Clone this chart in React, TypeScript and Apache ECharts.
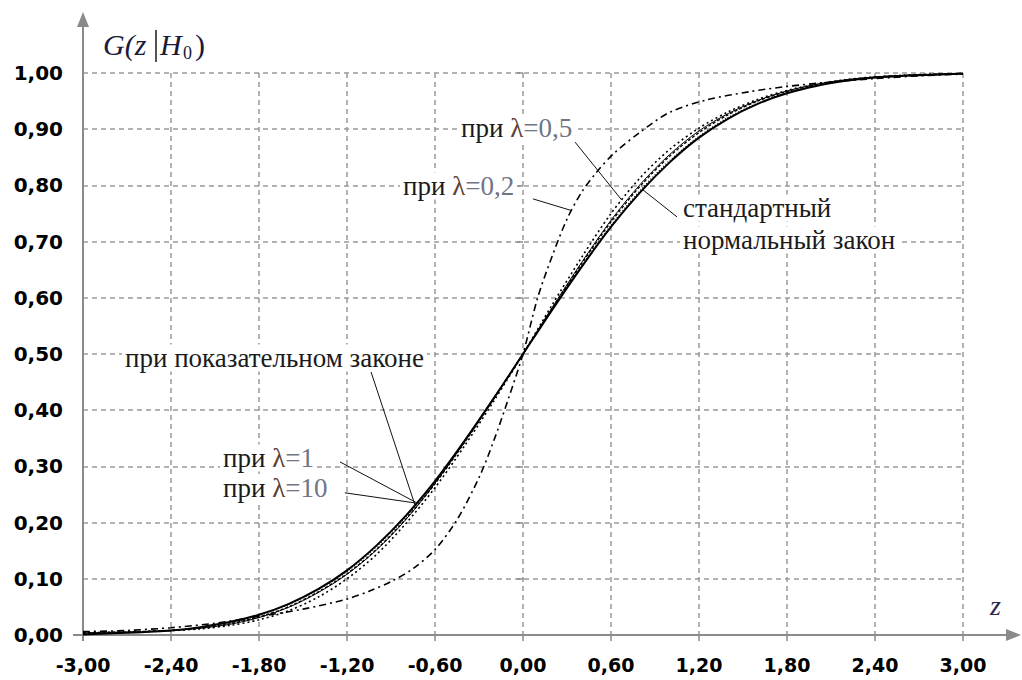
import React, { useEffect, useRef } from "react";
import * as echarts from "echarts";

// ---- data ----
const zGrid = [-3.0, -2.8, -2.6, -2.4, -2.2, -2.0, -1.8, -1.6, -1.4, -1.2, -1.0, -0.8, -0.6, -0.4, -0.2, 0.0, 0.2, 0.4, 0.6, 0.8, 1.0, 1.2, 1.4, 1.6, 1.8, 2.0, 2.2, 2.4, 2.6, 2.8, 3.0];
const gNormal = [0.001, 0.003, 0.005, 0.008, 0.014, 0.023, 0.036, 0.055, 0.081, 0.115, 0.159, 0.212, 0.274, 0.345, 0.421, 0.5, 0.579, 0.655, 0.726, 0.788, 0.841, 0.885, 0.919, 0.945, 0.964, 0.977, 0.986, 0.992, 0.995, 0.997, 0.999];
const gLam10 = [0.002, 0.003, 0.005, 0.008, 0.013, 0.022, 0.035, 0.054, 0.08, 0.113, 0.157, 0.21, 0.272, 0.344, 0.421, 0.5, 0.58, 0.657, 0.729, 0.791, 0.844, 0.887, 0.921, 0.946, 0.965, 0.978, 0.987, 0.992, 0.995, 0.997, 0.999];
const gLam1 = [0.003, 0.004, 0.006, 0.008, 0.012, 0.02, 0.032, 0.05, 0.076, 0.109, 0.152, 0.206, 0.269, 0.342, 0.42, 0.5, 0.582, 0.661, 0.735, 0.799, 0.852, 0.894, 0.926, 0.95, 0.967, 0.979, 0.987, 0.992, 0.995, 0.997, 0.999];
const gExpon = [0.004, 0.005, 0.006, 0.008, 0.012, 0.019, 0.031, 0.049, 0.075, 0.108, 0.151, 0.205, 0.27, 0.343, 0.421, 0.5, 0.583, 0.663, 0.738, 0.802, 0.855, 0.897, 0.928, 0.951, 0.968, 0.98, 0.988, 0.993, 0.996, 0.998, 0.999];
const gLam05 = [0.004, 0.005, 0.006, 0.008, 0.011, 0.017, 0.027, 0.043, 0.067, 0.1, 0.143, 0.198, 0.262, 0.336, 0.416, 0.5, 0.588, 0.672, 0.75, 0.814, 0.864, 0.902, 0.931, 0.953, 0.969, 0.98, 0.988, 0.993, 0.996, 0.998, 0.999];

const zLam02 = [-3.0, -2.7, -2.4, -2.1, -1.8, -1.5, -1.2, -1.05, -0.9, -0.75, -0.6, -0.45, -0.3, -0.2, -0.1, 0.0, 0.1, 0.2, 0.3, 0.4, 0.5, 0.62, 0.8, 1.0, 1.25, 1.55, 1.8, 2.1, 2.4, 2.7, 3.0];
const gLam02 = [0.006, 0.008, 0.013, 0.021, 0.033, 0.046, 0.064, 0.078, 0.095, 0.118, 0.152, 0.205, 0.28, 0.345, 0.42, 0.5, 0.6, 0.675, 0.74, 0.788, 0.823, 0.857, 0.895, 0.93, 0.952, 0.967, 0.976, 0.984, 0.99, 0.995, 0.998];

// leader lines: [from (z, G)] -> [to (z, G)]
const leaderLam05 = [[0.355, 0.877], [0.673, 0.774]];
const leaderLam02 = [[0.068, 0.776], [0.334, 0.755]];
const leaderNormal = [[1.05, 0.744], [0.818, 0.792]];
const leaderExpon = [[-1.036, 0.468], [-0.736, 0.231]];
const leaderLam1 = [[-1.248, 0.308], [-0.723, 0.235]];
const leaderLam10 = [[-1.214, 0.253], [-0.736, 0.235]];

const X_MIN = -3, X_MAX = 3, X_STEP = 0.6;
const Y_MIN = 0, Y_MAX = 1, Y_STEP = 0.1;

const fmt = (v: number) => (Math.abs(v) < 1e-9 ? 0 : v).toFixed(2).replace(".", ",");
const pairs = (xs: number[], ys: number[]) => xs.map((x, i) => [x, ys[i]]);

const SERIF = "'Liberation Serif', 'Times New Roman', serif";
const AXIS_GRAY = "#8a8a8a";
const ANN_SIZE = 27;

export default function App() {
  const ref = useRef<HTMLDivElement>(null);
  useEffect(() => {
    if (!ref.current) return;
    const chart = echarts.init(ref.current, undefined, { renderer: "svg" });

    const curve = (name: string, data: number[][], lineStyle: any) => ({
      name,
      type: "line",
      data,
      showSymbol: false,
      symbol: "none",
      smooth: 0.3,
      silent: true,
      lineStyle: { color: "#000", ...lineStyle },
      z: 3,
    });
    const leader = (data: number[][]) => ({
      type: "line",
      data,
      showSymbol: false,
      symbol: "none",
      silent: true,
      lineStyle: { color: "#111", width: 1 },
      z: 6,
    });

    const richBase = { fontFamily: SERIF, fontSize: ANN_SIZE };
    const lamText = (x: number, y: number, lam: string) => ({
      type: "text",
      x,
      y,
      z: 20,
      style: {
        text: `{a|при }{b|λ}{c|=${lam}}`,
        verticalAlign: "middle",
        backgroundColor: "#fff",
        padding: [0, 3],
        rich: {
          a: { ...richBase, fill: "#1b1b1b" },
          b: { ...richBase, fill: "#5c4030" },
          c: { ...richBase, fill: "#6e7686" },
        },
      },
    });
    const plainText = (x: number, y: number, text: string) => ({
      type: "text",
      x,
      y,
      z: 20,
      style: {
        text,
        fontFamily: SERIF,
        fontSize: ANN_SIZE,
        fill: "#1b1b1b",
        verticalAlign: "middle",
        backgroundColor: "#fff",
        padding: [0, 3],
      },
    });

    chart.setOption({
      animation: false,
      backgroundColor: "#fff",
      grid: { left: 83, right: 59, top: 73, bottom: 45, containLabel: false },
      xAxis: {
        type: "value",
        min: X_MIN,
        max: X_MAX,
        interval: X_STEP,
        axisLine: { show: false },
        axisTick: { show: true, length: 6, lineStyle: { color: AXIS_GRAY, width: 1.5 } },
        axisLabel: {
          formatter: fmt,
          fontFamily: "'DejaVu Sans', sans-serif",
          fontWeight: "bold",
          fontSize: 19,
          color: "#000",
          margin: 20,
        },
        splitLine: { show: true, lineStyle: { color: "#9a9a9a", type: [5, 4], width: 1.5 } },
      },
      yAxis: {
        type: "value",
        min: Y_MIN,
        max: Y_MAX,
        interval: Y_STEP,
        axisLine: { show: false },
        axisTick: { show: true, length: 6, lineStyle: { color: AXIS_GRAY, width: 1.5 } },
        axisLabel: {
          formatter: fmt,
          fontFamily: "'DejaVu Sans', sans-serif",
          fontWeight: "bold",
          fontSize: 20,
          color: "#000",
          margin: 20,
        },
        splitLine: { show: true, lineStyle: { color: "#9a9a9a", type: [5, 4], width: 1.5 } },
      },
      series: [
        curve("λ=0,2", pairs(zLam02, gLam02), { width: 1.6, type: [7, 4, 2, 4] }),
        curve("λ=0,5", pairs(zGrid, gLam05), { width: 1.6, type: [2, 3] }),
        curve("λ=1", pairs(zGrid, gLam1), { width: 1.4, type: [3, 2] }),
        curve("λ=10", pairs(zGrid, gLam10), { width: 1.4, type: [1, 2] }),
        curve("показательный", pairs(zGrid, gExpon), { width: 1, type: "solid" }),
        curve("нормальный", pairs(zGrid, gNormal), { width: 2, type: "solid" }),
        leader(leaderLam05),
        leader(leaderLam02),
        leader(leaderNormal),
        leader(leaderExpon),
        leader(leaderLam1),
        leader(leaderLam10),
      ],
      graphic: [
        // axes with arrows
        { type: "line", z: 1, shape: { x1: 83, y1: 641, x2: 83, y2: 24 }, style: { stroke: AXIS_GRAY, lineWidth: 2 } },
        { type: "polygon", z: 1, shape: { points: [[83, 12], [77, 27], [89, 27]] }, style: { fill: AXIS_GRAY } },
        { type: "line", z: 1, shape: { x1: 73, y1: 635, x2: 1008, y2: 635 }, style: { stroke: AXIS_GRAY, lineWidth: 2 } },
        { type: "polygon", z: 1, shape: { points: [[1021, 635], [1006, 629], [1006, 641]] }, style: { fill: AXIS_GRAY } },
        // axis titles
        { type: "text", x: 103, y: 44, z: 20, style: { text: "G(z", fontFamily: SERIF, fontStyle: "italic", fontSize: 30, fill: "#1a1a3a", verticalAlign: "middle" } },
        { type: "line", z: 20, shape: { x1: 156, y1: 30, x2: 156, y2: 62 }, style: { stroke: "#1a1a1a", lineWidth: 1.5 } },
        { type: "text", x: 160, y: 44, z: 20, style: { text: "H", fontFamily: SERIF, fontStyle: "italic", fontSize: 30, fill: "#1a1a3a", verticalAlign: "middle" } },
        { type: "text", x: 183, y: 53, z: 20, style: { text: "0", fontFamily: SERIF, fontSize: 18, fill: "#1a1a3a", verticalAlign: "middle" } },
        { type: "text", x: 195, y: 44, z: 20, style: { text: ")", fontFamily: SERIF, fontSize: 30, fill: "#1a1a3a", verticalAlign: "middle" } },
        { type: "text", x: 990, y: 605, z: 20, style: { text: "z", fontFamily: SERIF, fontStyle: "italic", fontSize: 28, fill: "#2a2a4a", verticalAlign: "middle" } },
        // annotations
        lamText(458, 128, "0,5"),
        lamText(400, 186, "0,2"),
        plainText(680, 208, "стандартный"),
        plainText(680, 240, "нормальный закон"),
        plainText(122, 358, "при показательном законе"),
        lamText(220, 458, "1"),
        lamText(220, 488, "10"),
      ],
    });
    return () => chart.dispose();
  }, []);

  return <div ref={ref} style={{ position: "fixed", left: 0, top: 0, width: 1022, height: 680 }} />;
}
